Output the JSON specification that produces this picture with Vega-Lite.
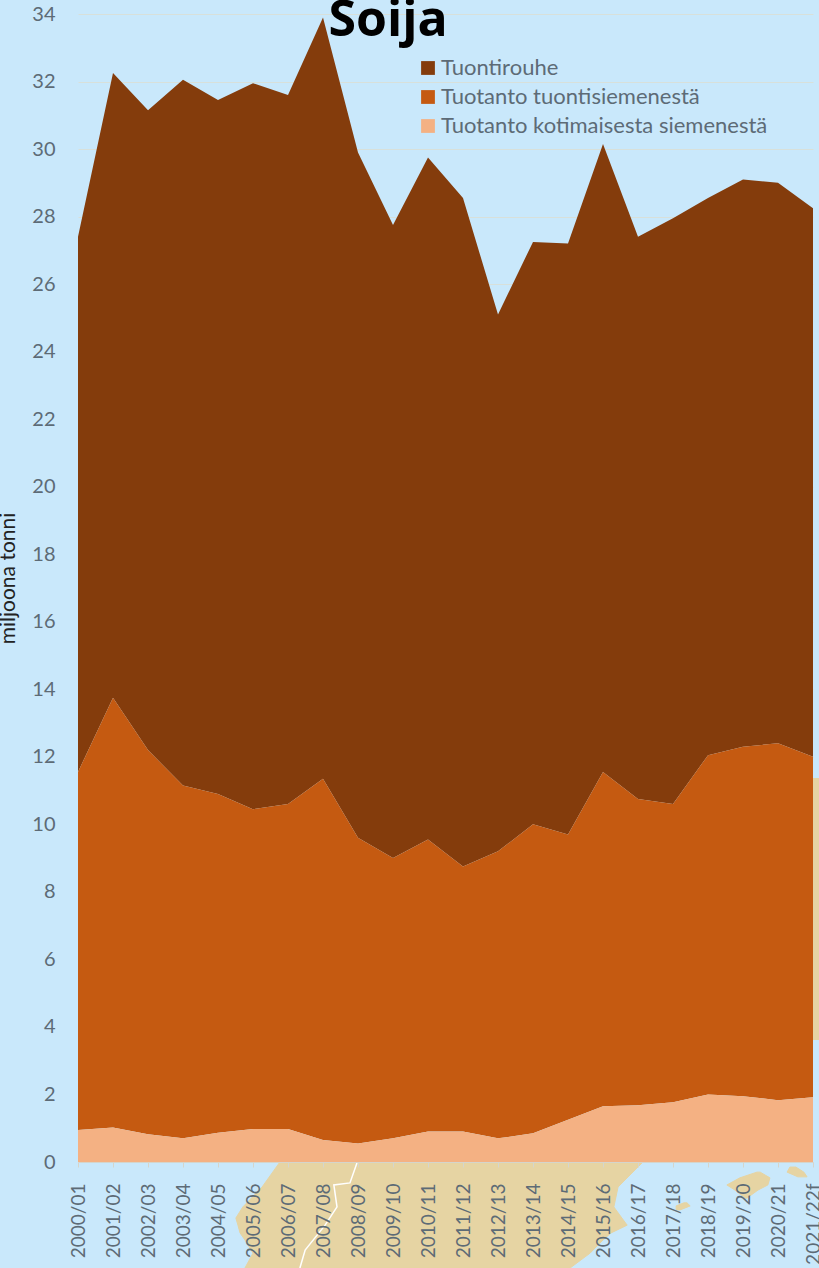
{"$schema":"https://vega.github.io/schema/vega-lite/v6.json","width":735,"height":1148,"autosize":"none","padding":{"left":78,"top":14,"right":6,"bottom":106},"background":"#c9e8fb","config":{"view":{"stroke":null},"font":"Lato"},"datasets":{"spain":[{"y":0,"lo":5.77,"hi":16.14},{"y":-0.74,"lo":5.26,"hi":15.43},{"y":-1.33,"lo":4.71,"hi":15.31},{"y":-1.66,"lo":4.51,"hi":15.54},{"y":-1.87,"lo":4.57,"hi":15.69},{"y":-2.1,"lo":4.63,"hi":15.23},{"y":-2.31,"lo":4.77,"hi":15.0},{"y":-2.7,"lo":5.0,"hi":14.63},{"y":-3.14,"lo":4.77,"hi":14.06}],"mallorca":[{"y":-0.3,"lo":19.4,"hi":19.49},{"y":-0.47,"lo":18.91,"hi":19.77},{"y":-0.68,"lo":18.54,"hi":19.71},{"y":-0.83,"lo":18.77,"hi":19.43},{"y":-1.07,"lo":19.06,"hi":19.11}],"ibiza":[{"y":-1.21,"lo":17.31,"hi":17.4},{"y":-1.3,"lo":17.09,"hi":17.49},{"y":-1.42,"lo":17.09,"hi":17.2}],"menorca":[{"y":-0.15,"lo":20.34,"hi":20.51},{"y":-0.3,"lo":20.26,"hi":20.74},{"y":-0.44,"lo":20.57,"hi":20.83}],"east":[{"y":11.37,"y2":3.61,"lo":21,"hi":21.2}],"border":[{"n":1,"x":7.97,"y":-0.03},{"n":2,"x":7.77,"y":-0.62},{"n":3,"x":7.31,"y":-0.68},{"n":4,"x":7.4,"y":-1.33},{"n":5,"x":7.06,"y":-1.87},{"n":6,"x":6.49,"y":-2.61},{"n":7,"x":6.34,"y":-3.14}],"soy":[
{"v":"2000/01","s":"Tuontirouhe","k":3,"a":15.85},{"v":"2000/01","s":"Tuotanto tuontisiemenestä","k":2,"a":10.6},{"v":"2000/01","s":"Tuotanto kotimaisesta siemenestä","k":1,"a":0.95},
{"v":"2001/02","s":"Tuontirouhe","k":3,"a":18.5},{"v":"2001/02","s":"Tuotanto tuontisiemenestä","k":2,"a":12.73},{"v":"2001/02","s":"Tuotanto kotimaisesta siemenestä","k":1,"a":1.02},
{"v":"2002/03","s":"Tuontirouhe","k":3,"a":18.95},{"v":"2002/03","s":"Tuotanto tuontisiemenestä","k":2,"a":11.38},{"v":"2002/03","s":"Tuotanto kotimaisesta siemenestä","k":1,"a":0.82},
{"v":"2003/04","s":"Tuontirouhe","k":3,"a":20.9},{"v":"2003/04","s":"Tuotanto tuontisiemenestä","k":2,"a":10.45},{"v":"2003/04","s":"Tuotanto kotimaisesta siemenestä","k":1,"a":0.7},
{"v":"2004/05","s":"Tuontirouhe","k":3,"a":20.55},{"v":"2004/05","s":"Tuotanto tuontisiemenestä","k":2,"a":10.03},{"v":"2004/05","s":"Tuotanto kotimaisesta siemenestä","k":1,"a":0.87},
{"v":"2005/06","s":"Tuontirouhe","k":3,"a":21.5},{"v":"2005/06","s":"Tuotanto tuontisiemenestä","k":2,"a":9.47},{"v":"2005/06","s":"Tuotanto kotimaisesta siemenestä","k":1,"a":0.98},
{"v":"2006/07","s":"Tuontirouhe","k":3,"a":21.0},{"v":"2006/07","s":"Tuotanto tuontisiemenestä","k":2,"a":9.62},{"v":"2006/07","s":"Tuotanto kotimaisesta siemenestä","k":1,"a":0.98},
{"v":"2007/08","s":"Tuontirouhe","k":3,"a":22.55},{"v":"2007/08","s":"Tuotanto tuontisiemenestä","k":2,"a":10.7},{"v":"2007/08","s":"Tuotanto kotimaisesta siemenestä","k":1,"a":0.65},
{"v":"2008/09","s":"Tuontirouhe","k":3,"a":20.3},{"v":"2008/09","s":"Tuotanto tuontisiemenestä","k":2,"a":9.05},{"v":"2008/09","s":"Tuotanto kotimaisesta siemenestä","k":1,"a":0.55},
{"v":"2009/10","s":"Tuontirouhe","k":3,"a":18.75},{"v":"2009/10","s":"Tuotanto tuontisiemenestä","k":2,"a":8.3},{"v":"2009/10","s":"Tuotanto kotimaisesta siemenestä","k":1,"a":0.7},
{"v":"2010/11","s":"Tuontirouhe","k":3,"a":20.2},{"v":"2010/11","s":"Tuotanto tuontisiemenestä","k":2,"a":8.65},{"v":"2010/11","s":"Tuotanto kotimaisesta siemenestä","k":1,"a":0.9},
{"v":"2011/12","s":"Tuontirouhe","k":3,"a":19.8},{"v":"2011/12","s":"Tuotanto tuontisiemenestä","k":2,"a":7.85},{"v":"2011/12","s":"Tuotanto kotimaisesta siemenestä","k":1,"a":0.9},
{"v":"2012/13","s":"Tuontirouhe","k":3,"a":15.9},{"v":"2012/13","s":"Tuotanto tuontisiemenestä","k":2,"a":8.5},{"v":"2012/13","s":"Tuotanto kotimaisesta siemenestä","k":1,"a":0.7},
{"v":"2013/14","s":"Tuontirouhe","k":3,"a":17.25},{"v":"2013/14","s":"Tuotanto tuontisiemenestä","k":2,"a":9.15},{"v":"2013/14","s":"Tuotanto kotimaisesta siemenestä","k":1,"a":0.85},
{"v":"2014/15","s":"Tuontirouhe","k":3,"a":17.5},{"v":"2014/15","s":"Tuotanto tuontisiemenestä","k":2,"a":8.45},{"v":"2014/15","s":"Tuotanto kotimaisesta siemenestä","k":1,"a":1.25},
{"v":"2015/16","s":"Tuontirouhe","k":3,"a":18.6},{"v":"2015/16","s":"Tuotanto tuontisiemenestä","k":2,"a":9.9},{"v":"2015/16","s":"Tuotanto kotimaisesta siemenestä","k":1,"a":1.65},
{"v":"2016/17","s":"Tuontirouhe","k":3,"a":16.65},{"v":"2016/17","s":"Tuotanto tuontisiemenestä","k":2,"a":9.07},{"v":"2016/17","s":"Tuotanto kotimaisesta siemenestä","k":1,"a":1.68},
{"v":"2017/18","s":"Tuontirouhe","k":3,"a":17.35},{"v":"2017/18","s":"Tuotanto tuontisiemenestä","k":2,"a":8.83},{"v":"2017/18","s":"Tuotanto kotimaisesta siemenestä","k":1,"a":1.77},
{"v":"2018/19","s":"Tuontirouhe","k":3,"a":16.5},{"v":"2018/19","s":"Tuotanto tuontisiemenestä","k":2,"a":10.05},{"v":"2018/19","s":"Tuotanto kotimaisesta siemenestä","k":1,"a":2.0},
{"v":"2019/20","s":"Tuontirouhe","k":3,"a":16.8},{"v":"2019/20","s":"Tuotanto tuontisiemenestä","k":2,"a":10.35},{"v":"2019/20","s":"Tuotanto kotimaisesta siemenestä","k":1,"a":1.95},
{"v":"2020/21","s":"Tuontirouhe","k":3,"a":16.6},{"v":"2020/21","s":"Tuotanto tuontisiemenestä","k":2,"a":10.57},{"v":"2020/21","s":"Tuotanto kotimaisesta siemenestä","k":1,"a":1.83},
{"v":"2021/22f","s":"Tuontirouhe","k":3,"a":16.25},{"v":"2021/22f","s":"Tuotanto tuontisiemenestä","k":2,"a":10.08},{"v":"2021/22f","s":"Tuotanto kotimaisesta siemenestä","k":1,"a":1.92}
]},"layer":[
{"data":{"name":"spain"},"mark":{"type":"area","orient":"horizontal","fill":"#e6d4a3","stroke":"#e6d4a3","opacity":1},"encoding":{"y":{"field":"y","type":"quantitative","scale":{"domain":[0,34],"nice":false},"stack":null,"axis":{"values":[0,2,4,6,8,10,12,14,16,18,20,22,24,26,28,30,32,34],"title":"miljoona tonni","titleFont":"Lato","titleFontSize":21,"titleFontWeight":"normal","titleColor":"#222222","titleX":-60,"titleY":564,"labelFont":"Lato","labelFontSize":20,"labelColor":"#5d6b76","labelPadding":23,"domain":false,"ticks":false,"grid":true,"gridColor":"#d8e0da","gridWidth":1}},"x":{"field":"lo","type":"quantitative","stack":null,"scale":{"domain":[0,21],"nice":false,"zero":false},"axis":null},"x2":{"field":"hi"}}},
{"data":{"name":"mallorca"},"mark":{"type":"area","orient":"horizontal","fill":"#e6d4a3","stroke":"#e6d4a3","opacity":1},"encoding":{"y":{"field":"y","type":"quantitative","stack":null},"x":{"field":"lo","type":"quantitative","stack":null,"scale":{"domain":[0,21],"nice":false,"zero":false},"axis":null},"x2":{"field":"hi"}}},
{"data":{"name":"ibiza"},"mark":{"type":"area","orient":"horizontal","fill":"#e6d4a3","stroke":"#e6d4a3","opacity":1},"encoding":{"y":{"field":"y","type":"quantitative","stack":null},"x":{"field":"lo","type":"quantitative","stack":null,"scale":{"domain":[0,21],"nice":false,"zero":false},"axis":null},"x2":{"field":"hi"}}},
{"data":{"name":"menorca"},"mark":{"type":"area","orient":"horizontal","fill":"#e6d4a3","stroke":"#e6d4a3","opacity":1},"encoding":{"y":{"field":"y","type":"quantitative","stack":null},"x":{"field":"lo","type":"quantitative","stack":null,"scale":{"domain":[0,21],"nice":false,"zero":false},"axis":null},"x2":{"field":"hi"}}},
{"data":{"name":"east"},"mark":{"type":"rect","fill":"#e6d4a3"},"encoding":{"y":{"field":"y","type":"quantitative"},"y2":{"field":"y2"},"x":{"field":"lo","type":"quantitative","scale":{"domain":[0,21],"nice":false,"zero":false},"axis":null},"x2":{"field":"hi"}}},
{"data":{"name":"border"},"mark":{"type":"line","color":"#ffffff","strokeWidth":1.5},"encoding":{"order":{"field":"n"},"x":{"field":"x","type":"quantitative","scale":{"domain":[0,21],"nice":false,"zero":false},"axis":null},"y":{"field":"y","type":"quantitative"}}},
{"data":{"name":"soy"},"mark":{"type":"area","line":false},"encoding":{"x":{"field":"v","type":"ordinal","scale":{"type":"point","padding":0},"axis":{"title":null,"zindex":1,"labelAngle":270,"labelFont":"Lato","labelFontSize":19,"labelColor":"#5d6b76","labelPadding":16,"domainColor":"#d5d5cc","tickColor":"#d5d5cc","tickSize":5,"labelBound":false,"labelOverlap":false}},"y":{"field":"a","type":"quantitative","stack":"zero"},"order":{"field":"k"},"color":{"field":"s","type":"nominal","scale":{"domain":["Tuontirouhe","Tuotanto tuontisiemenestä","Tuotanto kotimaisesta siemenestä"],"range":["#843c0c","#c55a11","#f4b183"]},"legend":{"orient":"none","legendX":339,"legendY":43,"title":null,"symbolType":"square","symbolSize":190,"symbolOpacity":1,"labelFont":"Lato","labelFontSize":22,"labelColor":"#5d6b76","labelLimit":500,"rowPadding":7,"labelOffset":2,"symbolStrokeWidth":0}}}},
{"data":{"values":[{"t":"Soija","x":8.86,"y":33.35}]},"mark":{"type":"text","font":"Open Sans","fontSize":50,"fontWeight":"bold","color":"#000000","align":"center","baseline":"alphabetic"},"encoding":{"text":{"field":"t"},"x":{"field":"x","type":"quantitative","scale":{"domain":[0,21],"nice":false,"zero":false},"axis":null},"y":{"field":"y","type":"quantitative"}}}
],"resolve":{"scale":{"x":"independent"}}}
